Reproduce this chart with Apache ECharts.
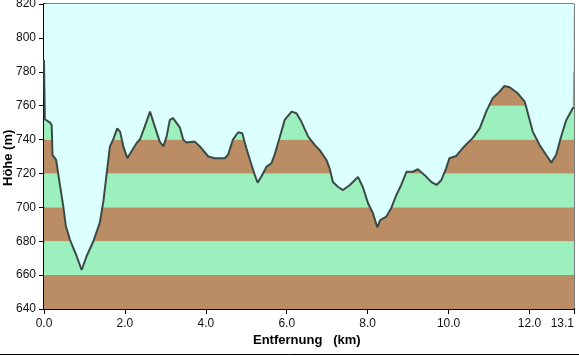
<!DOCTYPE html>
<html>
<head>
<meta charset="utf-8">
<script src="https://cdn.jsdelivr.net/npm/echarts@6/dist/echarts.min.js"></script>
<style>
html,body{margin:0;padding:0;background:#fff;}
#c{width:579px;height:356px;}
</style>
</head>
<body>
<div id="c"></div>
<script>
const distanceKm = [0, 0.02, 0.15, 0.19, 0.21, 0.30, 0.35, 0.48, 0.54, 0.64, 0.81, 0.93, 1.05, 1.22, 1.38, 1.47, 1.55, 1.63, 1.71, 1.81, 1.88, 1.96, 2.06, 2.16, 2.29, 2.37, 2.49, 2.62, 2.74, 2.86, 2.95, 3.03, 3.11, 3.19, 3.36, 3.44, 3.52, 3.73, 3.89, 4.06, 4.22, 4.47, 4.55, 4.67, 4.80, 4.90, 5.00, 5.13, 5.21, 5.28, 5.37, 5.50, 5.62, 5.70, 5.83, 5.95, 6.12, 6.24, 6.36, 6.53, 6.69, 6.81, 6.98, 7.06, 7.14, 7.27, 7.39, 7.56, 7.68, 7.76, 7.88, 8.01, 8.13, 8.24, 8.31, 8.46, 8.58, 8.71, 8.83, 8.96, 9.12, 9.24, 9.41, 9.57, 9.70, 9.82, 9.94, 10.02, 10.19, 10.35, 10.60, 10.77, 10.93, 11.09, 11.26, 11.38, 11.51, 11.71, 11.88, 11.96, 12.08, 12.25, 12.41, 12.54, 12.66, 12.78, 12.91, 13.07, 13.1];
const elevationM = [787, 752, 750, 748.6, 731, 728, 720, 700, 689, 681, 671, 663, 671, 680, 691, 704, 720, 736, 740, 746.6, 744.7, 736, 729, 733, 738, 740, 747.6, 756.5, 747.6, 738.8, 736, 741.7, 751.6, 752.6, 747, 740, 738.2, 738.8, 735, 730, 729, 729, 731, 740, 744.3, 743.7, 735, 725, 719, 714.6, 718, 724, 726, 731, 741.7, 751.6, 756.5, 755.5, 750.6, 741.7, 736.8, 733.9, 728, 723, 715, 712, 710.2, 713.2, 716, 718, 712, 702.4, 696.5, 688.2, 692.5, 694.5, 699.4, 707.3, 713.2, 721, 721, 722.5, 719, 715, 713.2, 716, 723, 729, 730.3, 735, 741, 746.6, 756.5, 764.4, 768.3, 771.6, 770.9, 767.3, 762.4, 755.5, 744.7, 736.8, 731, 726.4, 731, 741.7, 751.6, 758.5, 759];
const xTickValues = [0, 2, 4, 6, 8, 10, 12, 13.1];
const bandEdges = [640, 660, 680, 700, 720, 740, 760, 780, 800, 820];

const BROWN = '#ba8d64', GREEN = '#9cf0be', SKY = '#dcffff';
const bands = [];
for (let i = 0; i < bandEdges.length - 1; i++) {
  bands.push([{yAxis: bandEdges[i], itemStyle: {color: i % 2 === 0 ? BROWN : GREEN}}, {yAxis: bandEdges[i + 1]}]);
}
const profile = distanceKm.map((d, i) => [d, elevationM[i]]);

const chart = echarts.init(document.getElementById('c'), null, {renderer: 'canvas'});
chart.setOption({
  animation: false,
  backgroundColor: '#fff',
  textStyle: {fontFamily: 'Liberation Sans, Arial, sans-serif'},
  grid: {left: 44, right: 5, top: 4, bottom: 47, containLabel: false, outerBoundsMode: 'none',
         show: true, backgroundColor: SKY, borderColor: '#000', borderWidth: 1},
  xAxis: {
    type: 'value', min: 0, max: 13.1,
    axisLine: {show: true, onZero: false, lineStyle: {color: '#000', width: 2}},
    axisTick: {show: true, length: 5, lineStyle: {color: '#000', width: 1}, customValues: xTickValues},
    axisLabel: {color: '#111', fontSize: 12, margin: 9, customValues: xTickValues, alignMaxLabel: 'right',
                formatter: v => v.toFixed(1)},
    splitLine: {show: false}
  },
  yAxis: {
    type: 'value', min: 640, max: 820, interval: 20,
    axisLine: {show: true, onZero: false, lineStyle: {color: '#000', width: 2}},
    axisTick: {show: true, length: 5, lineStyle: {color: '#000', width: 1}},
    axisLabel: {color: '#111', fontSize: 12, margin: 8},
    splitLine: {show: false}
  },
  graphic: [
    {type: 'text', x: 2, y: 186, rotation: Math.PI / 2,
     style: {text: 'Höhe (m)', font: 'bold 13px "Liberation Sans", Arial, sans-serif', fill: '#000', textVerticalAlign: 'top'}},
    {type: 'text', x: 253, y: 334, style: {text: 'Entfernung   (km)', font: 'bold 13px "Liberation Sans", Arial, sans-serif', fill: '#000'}},
    {type: 'line', shape: {x1: 0, y1: 354.5, x2: 579, y2: 354.5}, style: {stroke: '#000', lineWidth: 1}}
  ],
  series: [
    {
      type: 'line', z: 1, data: [[0, 640]], symbol: 'none', lineStyle: {width: 0}, silent: true,
      markArea: {silent: true, data: bands}
    },
    {
      type: 'line', z: 3, data: profile, symbol: 'none', smooth: false,
      lineStyle: {color: '#3b4a45', width: 2},
      areaStyle: {origin: 'end', color: SKY, opacity: 1}
    }
  ]
});
</script>
</body>
</html>
